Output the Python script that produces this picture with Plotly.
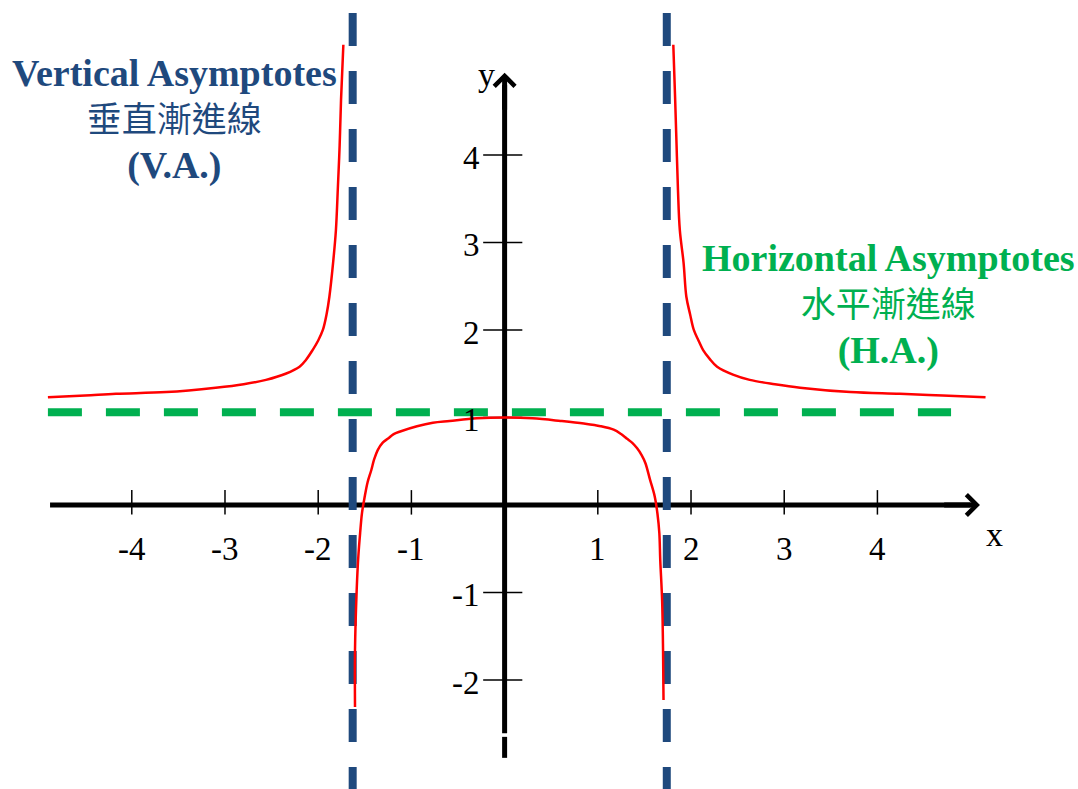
import plotly.graph_objects as go

# ---- curve samples (x, y) ----
left_x = [-4.90, -4.50, -4.17, -3.63, -3.10, -2.80, -2.56, -2.35, -2.20, -2.13, -2.06, -2.00,
          -1.95, -1.91, -1.88, -1.84, -1.81, -1.79, -1.77, -1.755, -1.73]
left_y = [1.23, 1.25, 1.27, 1.29, 1.34, 1.38, 1.43, 1.50, 1.58, 1.66, 1.77, 1.88,
          2.00, 2.18, 2.38, 2.77, 3.14, 3.60, 4.11, 4.63, 5.26]

mid_x = [-1.605, -1.605, -1.587, -1.569, -1.55, -1.53, -1.50, -1.47, -1.43, -1.40, -1.36, -1.31,
         -1.25, -1.19, -1.12, -0.94, -0.77, -0.59, -0.30, 0.00, 0.30, 0.60, 0.85, 1.03, 1.17,
         1.25, 1.31, 1.37, 1.42, 1.47, 1.51, 1.56, 1.61, 1.64, 1.66, 1.67, 1.69, 1.70, 1.705]
mid_y = [-2.31, -1.66, -0.97, -0.58, -0.32, -0.09, 0.10, 0.26, 0.40, 0.52, 0.63, 0.71,
         0.76, 0.81, 0.84, 0.90, 0.94, 0.96, 0.99, 1.00, 0.99, 0.96, 0.93, 0.90, 0.86,
         0.81, 0.76, 0.71, 0.65, 0.57, 0.48, 0.29, 0.10, -0.10, -0.32, -0.63, -1.09, -1.66, -2.23]

right_x = [1.81, 1.83, 1.845, 1.86, 1.88, 1.92, 1.95, 1.99, 2.03, 2.08, 2.13, 2.20, 2.28,
           2.45, 2.63, 2.90, 3.17, 3.71, 4.24, 4.70, 5.16]
right_y = [5.26, 4.63, 4.11, 3.60, 3.14, 2.77, 2.38, 2.18, 2.00, 1.88, 1.77, 1.67, 1.58,
           1.49, 1.43, 1.38, 1.34, 1.29, 1.27, 1.25, 1.23]

# ---- asymptotes ----
va_x = [-1.63, 1.74]
ha_y = 1.06

# ---- axes ----
x_ticks = [-4, -3, -2, -1, 1, 2, 3, 4]
y_ticks = [-2, -1, 1, 2, 3, 4]
x_tick_labels = ["-4", "-3", "-2", "-1", "1", "2", "3", "4"]
y_tick_labels = ["-2", "-1", "1", "2", "3", "4"]

X_RANGE = [-5.414, 6.152]
Y_RANGE = [-3.246, 5.771]

SERIF = "Liberation Serif, Times New Roman, serif"
CJK = "Noto Sans CJK TC, sans-serif"
BLUE = "#1F497D"
GREEN = "#00B050"
RED = "#FF0000"

fig = go.Figure()

# axis lines (drawn first so the asymptotes sit on top)
fig.add_trace(go.Scatter(x=[-4.877, 5.0], y=[0, 0], mode="lines",
                         line=dict(color="black", width=5), hoverinfo="skip"))
fig.add_trace(go.Scatter(x=[0, 0, None, 0, 0], y=[4.8, -2.61, None, -2.65, -2.89], mode="lines",
                         line=dict(color="black", width=5), hoverinfo="skip"))

# tick marks
tx, ty = [], []
for t in x_ticks:
    tx += [t, t, None]
    ty += [0.17, -0.11, None]
for t in y_ticks:
    tx += [-0.23, 0.19, None]
    ty += [t, t, None]
fig.add_trace(go.Scatter(x=tx, y=ty, mode="lines", line=dict(color="black", width=1.5),
                         hoverinfo="skip"))

# vertical asymptotes
for vx in va_x:
    fig.add_trace(go.Scatter(x=[vx, vx], y=[5.623, -3.4], mode="lines",
                             line=dict(color=BLUE, width=8, dash="33px,25px"), hoverinfo="skip"))

# horizontal asymptote
fig.add_trace(go.Scatter(x=[-4.90, 4.79], y=[ha_y, ha_y], mode="lines",
                         line=dict(color=GREEN, width=8, dash="34px,24px"), hoverinfo="skip"))

# curve branches
for bx, by in [(left_x, left_y), (mid_x, mid_y), (right_x, right_y)]:
    fig.add_trace(go.Scatter(x=bx, y=by, mode="lines",
                             line=dict(color=RED, width=2.5, shape="spline", smoothing=1.0),
                             hoverinfo="skip"))

annotations = []

# arrow heads of the axes
annotations.append(dict(x=5.10, y=0, ax=4.7, ay=0, xref="x", yref="y", axref="x", ayref="y",
                        text="", showarrow=True, arrowhead=4, arrowsize=0.8, arrowwidth=5,
                        arrowcolor="black"))
annotations.append(dict(x=0, y=4.94, ax=0, ay=4.5, xref="x", yref="y", axref="x", ayref="y",
                        text="", showarrow=True, arrowhead=4, arrowsize=0.8, arrowwidth=5,
                        arrowcolor="black"))

# tick labels
for t, lab in zip(x_ticks, x_tick_labels):
    annotations.append(dict(x=t, y=-0.50, xref="x", yref="y", text=lab, showarrow=False,
                            xanchor="center", yanchor="middle",
                            font=dict(family=SERIF, size=33, color="black")))
for t, lab in zip(y_ticks, y_tick_labels):
    annotations.append(dict(x=-0.245, y=t, xref="x", yref="y", text=lab, showarrow=False,
                            xanchor="right", yanchor="middle", yshift=-3,
                            font=dict(family=SERIF, size=33, color="black")))

# axis names
annotations.append(dict(x=-0.19, y=4.92, xref="x", yref="y", text="y", showarrow=False,
                        font=dict(family=SERIF, size=34, color="black")))
annotations.append(dict(x=5.26, y=-0.34, xref="x", yref="y", text="x", showarrow=False,
                        font=dict(family=SERIF, size=34, color="black")))

# three-line captions (English / Chinese / abbreviation)
def caption(px, py, lines, color):
    eng, zh, abbr = lines
    text = (f"<span style='font-size:38px'><b>{eng}</b></span><br>"
            f"<span style='font-family:{CJK};font-size:35px'>{zh}</span><br>"
            f"<span style='font-size:38px'><b>{abbr}</b></span>")
    annotations.append(dict(x=px / 1078, y=1 - py / 789, xref="paper", yref="paper",
                            text=text, showarrow=False, align="center",
                            xanchor="center", yanchor="middle",
                            font=dict(family=SERIF, size=35.5, color=color)))

va_caption = ["Vertical Asymptotes", "垂直漸進線", "(V.A.)"]
ha_caption = ["Horizontal Asymptotes", "水平漸進線", "(H.A.)"]
caption(174, 120, va_caption, BLUE)
caption(888, 305, ha_caption, GREEN)

fig.update_layout(
    width=1078, height=789,
    margin=dict(l=0, r=0, t=0, b=0),
    paper_bgcolor="white", plot_bgcolor="white",
    showlegend=False,
    xaxis=dict(range=X_RANGE, visible=False, fixedrange=True),
    yaxis=dict(range=Y_RANGE, visible=False, fixedrange=True),
    annotations=annotations,
)

fig.write_html("out.html")
